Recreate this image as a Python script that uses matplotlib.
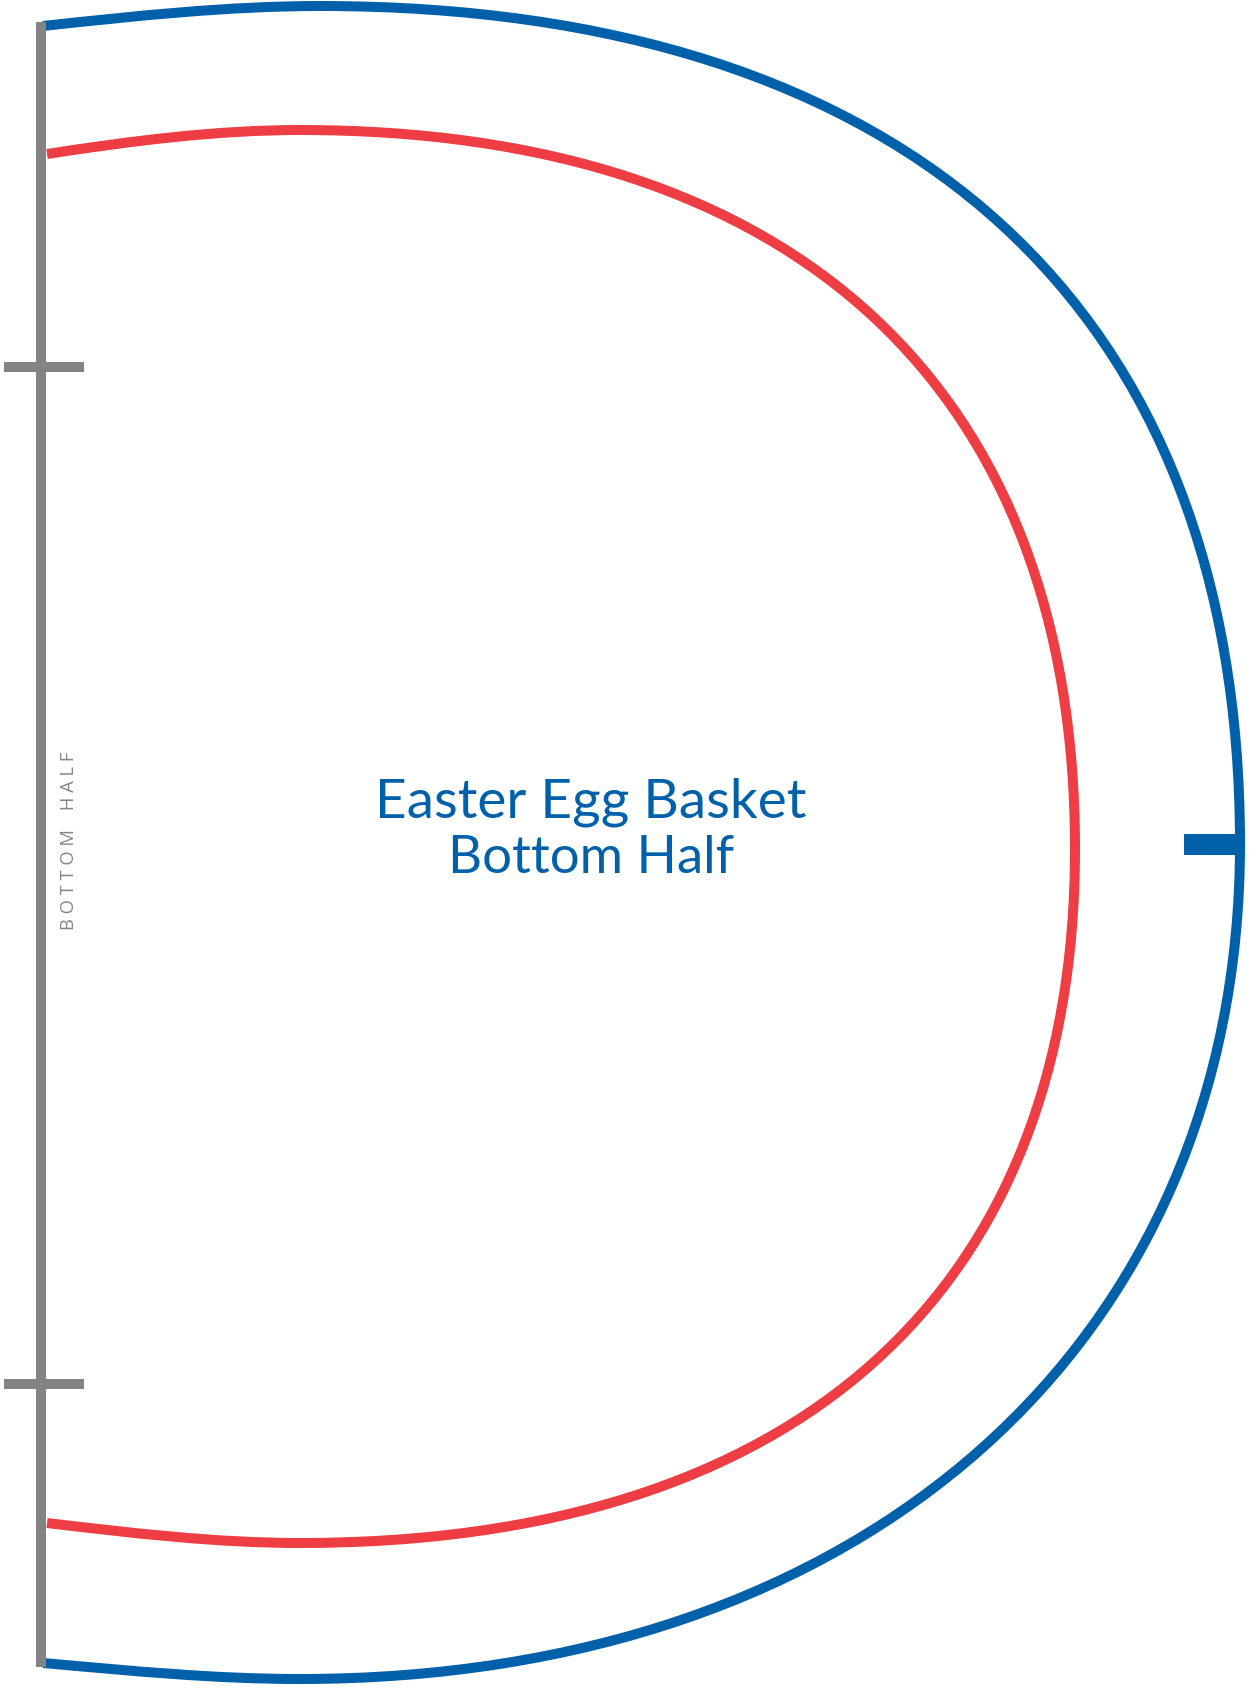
import matplotlib.pyplot as plt
from matplotlib.patches import Rectangle, PathPatch
from matplotlib.path import Path

# Outer cutting line (blue): start, then cubic bezier segments
# (control, control, end) in pixel coords
blue_x = [43, 135, 228, 320, 909, 1240, 1240, 1240, 863, 300, 214, 133, 43]
blue_y = [27, 17, 7, 7, 7, 309, 845, 1345, 1680, 1680, 1680, 1672, 1664]

# Inner fold line (red)
red_x = [47, 131, 216, 300, 796, 1075, 1075, 1075, 796, 300, 216, 131, 47]
red_y = [155, 142, 131, 131, 131, 390, 850, 1294, 1544, 1544, 1544, 1534, 1524]

# Gray fold edge and its tick marks
edge_x = 41
edge_top, edge_bottom = 23, 1668
tick_y = [368, 1385]
tick_x0, tick_x1 = 4, 84

# Blue notch on the right
notch_x0, notch_x1 = 1184, 1240
notch_y0, notch_y1 = 835, 856

title_lines = ["Easter Egg Basket", "Bottom Half"]
side_words = ["BOTTOM", "HALF"]

blue = "#0061aa"
red = "#ef3d44"
gray = "#838383"


def bezier_path(xs, ys):
    codes = [Path.MOVETO] + [Path.CURVE4] * (len(xs) - 1)
    return Path(list(zip(xs, ys)), codes)


W, H = 1249, 1690
fig = plt.figure(figsize=(W / 100, H / 100), dpi=100)
ax = fig.add_axes([0, 0, 1, 1])
ax.set_xlim(0, W)
ax.set_ylim(H, 0)
ax.axis("off")

lw = 10 * 72 / 100  # 10 px wide strokes

ax.plot([edge_x, edge_x], [edge_top, edge_bottom], color=gray, lw=lw, solid_capstyle="butt")
for ty in tick_y:
    ax.plot([tick_x0, tick_x1], [ty, ty], color=gray, lw=lw, solid_capstyle="butt")

ax.add_patch(PathPatch(bezier_path(blue_x, blue_y), fill=False, edgecolor=blue, lw=lw,
                       capstyle="butt", joinstyle="round"))
ax.add_patch(PathPatch(bezier_path(red_x, red_y), fill=False, edgecolor=red, lw=lw,
                       capstyle="butt", joinstyle="round"))

ax.add_patch(Rectangle((notch_x0, notch_y0), notch_x1 - notch_x0, notch_y1 - notch_y0,
                       color=blue, lw=0))

# Centre label
ax.text(591, 818, title_lines[0], color=blue, fontsize=39.5, family="Lato",
        ha="center", va="baseline")
ax.text(591, 873, title_lines[1], color=blue, fontsize=38, family="Lato",
        ha="center", va="baseline")

# Side label along the fold, letter spaced
spaced = "    ".join(" ".join(w) for w in side_words)
ax.text(69, 841, spaced, color="#858585", fontsize=13.2, family="Open Sans",
        rotation=90, ha="center", va="center")

plt.savefig("out.png", dpi=100)
